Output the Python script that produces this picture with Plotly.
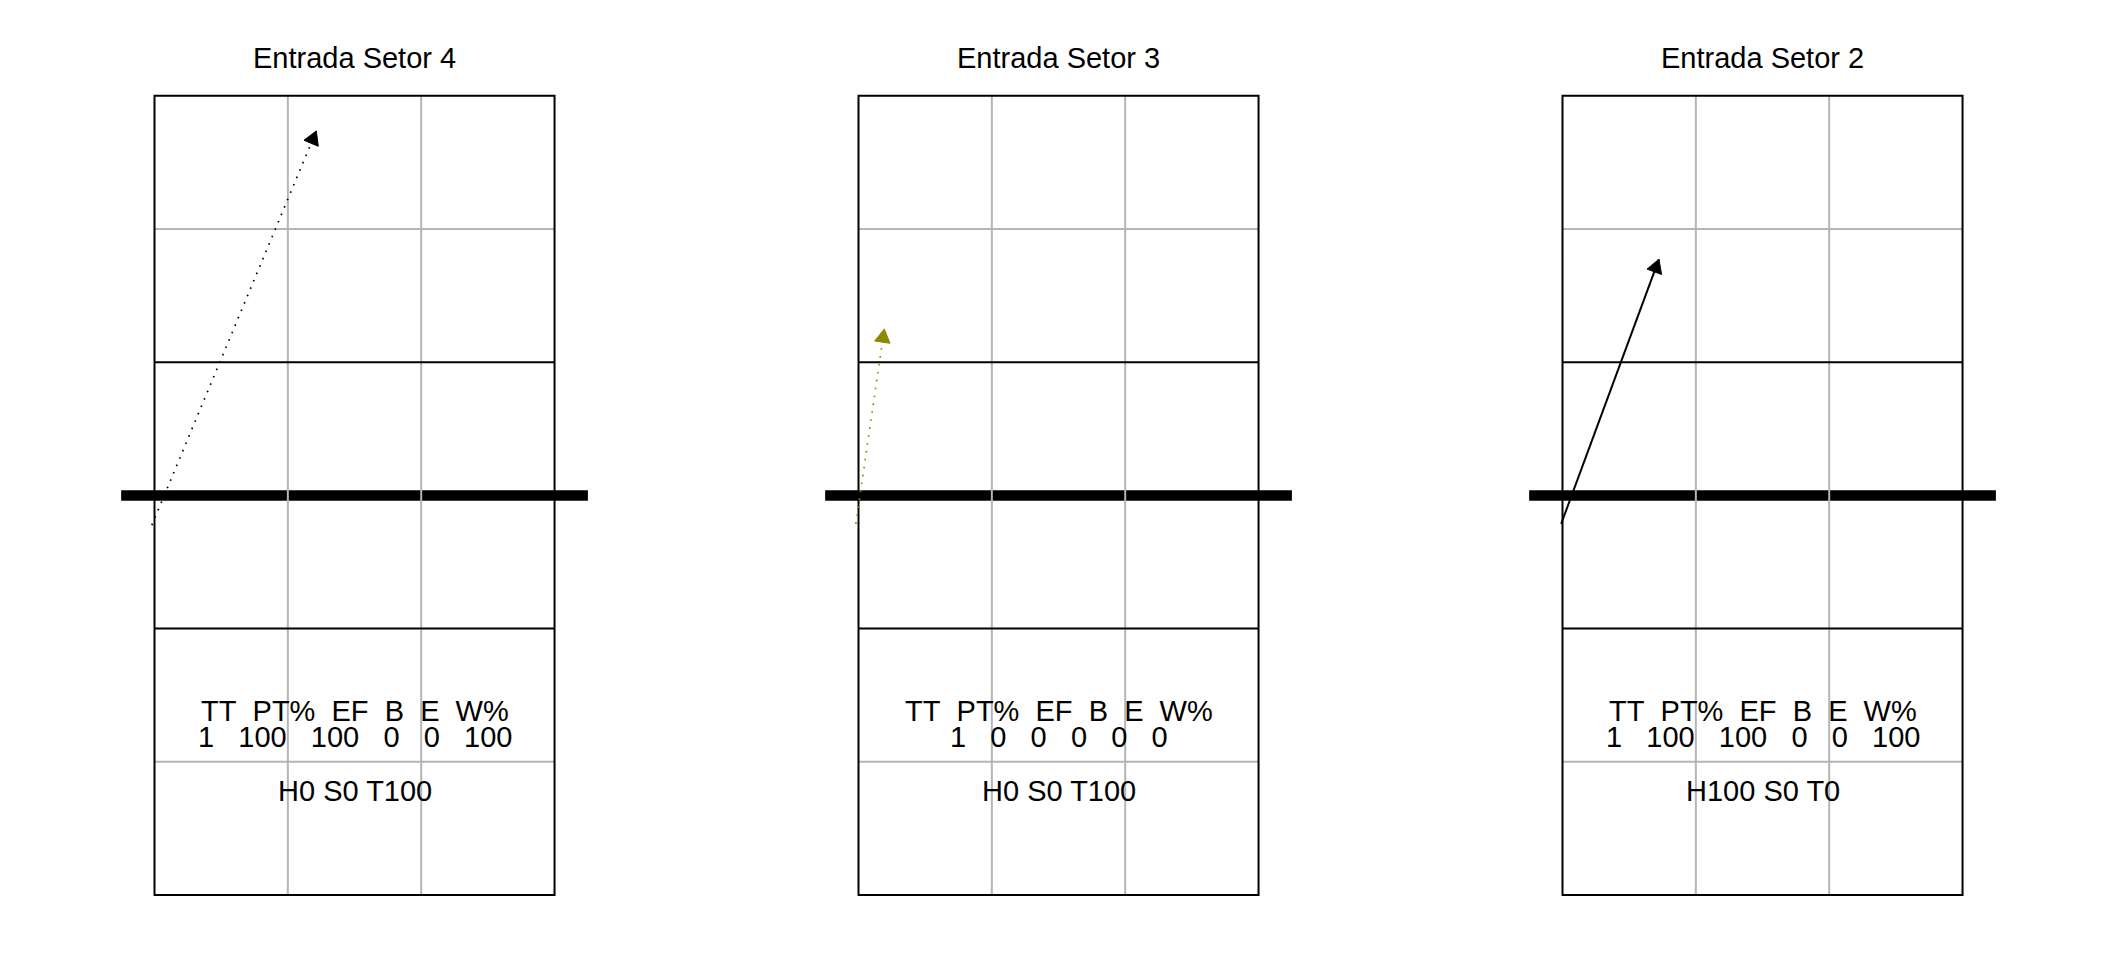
import math
import plotly.graph_objects as go

# ---------------- data ----------------
titles = ["Entrada Setor 4", "Entrada Setor 3", "Entrada Setor 2"]
start_x = [-0.06, -0.06, -0.03]
start_y = [8.33, 8.36, 8.36]
end_x = [3.64, 0.58, 2.17]
end_y = [17.21, 12.75, 14.32]
arrow_colors = ["#000000", "#8B8B00", "#000000"]
arrow_dash = ["dot", "dot", "solid"]

stat_labels = ["TT", "PT%", "EF", "B", "E", "W%"]
tt = [1, 1, 1]
pt_pct = [100, 0, 100]
ef = [100, 0, 100]
b = [0, 0, 0]
e = [0, 0, 0]
w_pct = [100, 0, 100]
h_pct = [0, 0, 100]
s_pct = [0, 0, 0]
t_pct = [100, 100, 0]

# ---------------- layout constants ----------------
W, H = 2112, 960
court_left_px = [154.5, 858.5, 1562.5]
ppm_x = 44.45
ppm_y = 44.4
base_px = 895.0           # y = 0 (end line) in pixels from top
XR = [-1, 10]
YR = [-1, 19]
FONT = "Liberation Sans, Arial, sans-serif"
GRAY = "#B5B5B5"
NB = "\u00a0"
HEAD_LEN_M = 15.5 / 44.4   # arrow head edge length (in metres, ~15px)
HEAD_ANG = math.radians(30)

fig = go.Figure()

for i in range(3):
    xa = "x" if i == 0 else f"x{i+1}"
    ya = "y" if i == 0 else f"y{i+1}"
    xkey = "xaxis" if i == 0 else f"xaxis{i+1}"
    ykey = "yaxis" if i == 0 else f"yaxis{i+1}"
    x0 = court_left_px[i]
    d0 = (x0 + XR[0] * ppm_x) / W
    d1 = (x0 + XR[1] * ppm_x) / W
    yd0 = (H - (base_px - YR[0] * ppm_y)) / H
    yd1 = (H - (base_px - YR[1] * ppm_y)) / H
    fig.update_layout({
        xkey: dict(domain=[d0, d1], range=XR, visible=False, showgrid=False,
                   zeroline=False, fixedrange=True, anchor=ya),
        ykey: dict(domain=[yd0, yd1], range=YR, visible=False, showgrid=False,
                   zeroline=False, fixedrange=True, anchor=xa),
    })

    # net
    fig.add_shape(type="line", xref=xa, yref=ya, x0=-0.75, x1=9.75, y0=9, y1=9,
                  line=dict(color="black", width=10.5), layer="below")
    # gray lines
    for gx in [3, 6]:
        fig.add_shape(type="line", xref=xa, yref=ya, x0=gx, x1=gx, y0=0, y1=18,
                      line=dict(color=GRAY, width=2), layer="below")
    for gy in [3, 15]:
        fig.add_shape(type="line", xref=xa, yref=ya, x0=0, x1=9, y0=gy, y1=gy,
                      line=dict(color=GRAY, width=2), layer="below")
    # attack lines
    for by in [6, 12]:
        fig.add_shape(type="line", xref=xa, yref=ya, x0=0, x1=9, y0=by, y1=by,
                      line=dict(color="black", width=2), layer="below")
    # border
    fig.add_shape(type="rect", xref=xa, yref=ya, x0=0, x1=9, y0=0, y1=18,
                  line=dict(color="black", width=2), layer="below")

    # arrow shaft
    dash = "1.6px,6.4px" if arrow_dash[i] == "dot" else "solid"
    fig.add_trace(go.Scatter(
        x=[start_x[i], end_x[i]], y=[start_y[i], end_y[i]],
        xaxis=xa, yaxis=ya, mode="lines",
        line=dict(color=arrow_colors[i], width=1.7 if arrow_dash[i] == "dot" else 2, dash=dash),
        hoverinfo="skip", showlegend=False))
    # arrow head (filled triangle derived from the arrow direction)
    theta = math.atan2(end_y[i] - start_y[i], end_x[i] - start_x[i])
    hx = [end_x[i],
          end_x[i] - HEAD_LEN_M * math.cos(theta - HEAD_ANG),
          end_x[i] - HEAD_LEN_M * math.cos(theta + HEAD_ANG),
          end_x[i]]
    hy = [end_y[i],
          end_y[i] - HEAD_LEN_M * math.sin(theta - HEAD_ANG),
          end_y[i] - HEAD_LEN_M * math.sin(theta + HEAD_ANG),
          end_y[i]]
    fig.add_trace(go.Scatter(
        x=hx, y=hy, xaxis=xa, yaxis=ya, mode="lines", fill="toself",
        fillcolor=arrow_colors[i], line=dict(color=arrow_colors[i], width=1),
        hoverinfo="skip", showlegend=False))

    # texts
    fig.add_annotation(x=4.5, y=18.85, xref=xa, yref=ya, text=titles[i],
                       showarrow=False, font=dict(family=FONT, size=29, color="black"),
                       xanchor="center", yanchor="middle")
    header = (NB * 2).join(stat_labels)
    vals = [tt[i], pt_pct[i], ef[i], b[i], e[i], w_pct[i]]
    values_line = (NB * 3).join(str(v) for v in vals)
    fig.add_annotation(x=4.5, y=4.15, xref=xa, yref=ya, text=header,
                       showarrow=False, font=dict(family=FONT, size=29, color="black"),
                       xanchor="center", yanchor="middle")
    fig.add_annotation(x=4.5, y=3.56, xref=xa, yref=ya, text=values_line,
                       showarrow=False, font=dict(family=FONT, size=29, color="black"),
                       xanchor="center", yanchor="middle")
    fig.add_annotation(x=4.5, y=2.34, xref=xa, yref=ya,
                       text=f"H{h_pct[i]} S{s_pct[i]} T{t_pct[i]}",
                       showarrow=False, font=dict(family=FONT, size=29, color="black"),
                       xanchor="center", yanchor="middle")

fig.update_layout(width=W, height=H, autosize=False,
                  margin=dict(l=0, r=0, t=0, b=0, pad=0),
                  paper_bgcolor="white", plot_bgcolor="rgba(0,0,0,0)",
                  showlegend=False)

fig.write_html("out.html", config={"displayModeBar": False},
               post_script="document.body.style.margin='0';")
